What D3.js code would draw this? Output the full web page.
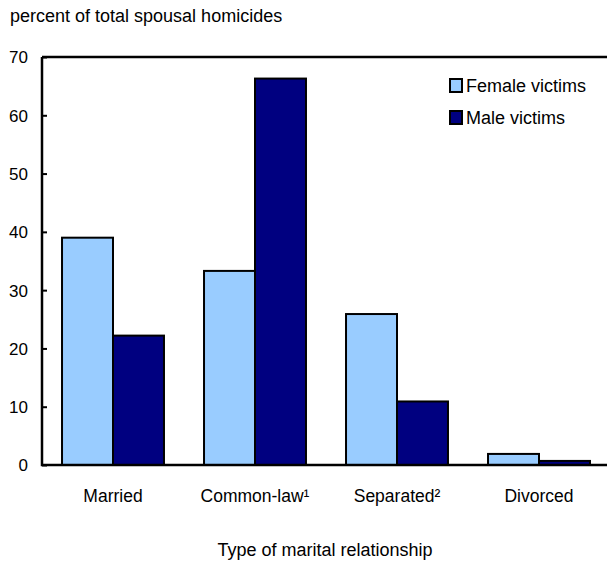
<!DOCTYPE html>
<html><head><meta charset="utf-8">
<script src="https://cdn.jsdelivr.net/npm/d3@7"></script>
<style>body{margin:0;background:#fff}svg{display:block}text{font-family:"Liberation Sans",Arial,sans-serif;fill:#000}</style>
</head><body>
<svg id="c" width="607" height="561"></svg>
<script>
const categories = ["Married", "Common-law\u00B9", "Separated\u00B2", "Divorced"];
const seriesNames = ["Female victims", "Male victims"];
const femaleValues = [39.0, 33.3, 25.9, 1.9];
const maleValues = [22.2, 66.3, 10.9, 0.7];
const yTicks = [0, 10, 20, 30, 40, 50, 60, 70];
const colors = ["#99CCFF", "#000080"];

const svg = d3.select("#c");
const m = {l: 42, t: 57, r: 610, b: 465};
const x = d3.scaleBand().domain(categories).range([m.l, m.r]).paddingInner(0.282).paddingOuter(0.141);
const xs = d3.scaleBand().domain(seriesNames).range([0, x.bandwidth()]);
const y = d3.scaleLinear().domain([0, 70]).range([m.b, m.t]);

const data = categories.map((c, i) => ({c, vals: [femaleValues[i], maleValues[i]]}));

// bars
const g = svg.append("g");
data.forEach(d => {
  d.vals.forEach((v, j) => {
    g.append("rect")
      .attr("x", x(d.c) + xs(seriesNames[j]))
      .attr("y", y(v))
      .attr("width", xs.bandwidth())
      .attr("height", y(0) - y(v))
      .attr("fill", colors[j])
      .attr("stroke", "#000").attr("stroke-width", 2);
  });
});

// frame
svg.append("path").attr("d", `M${m.l},${m.t}H${m.r}M${m.l},${m.t}V${m.b}H${m.r}`)
  .attr("fill", "none").attr("stroke", "#000").attr("stroke-width", 2.5);

// y axis ticks
const yAxis = d3.axisRight(y).tickValues(yTicks).tickSize(5).tickFormat(d3.format("d"));
const ya = svg.append("g").attr("transform", `translate(${m.l},0)`).call(yAxis);
ya.select(".domain").remove();
ya.selectAll(".tick line").attr("stroke", "#000").attr("stroke-width", 2);
ya.selectAll(".tick text").attr("x", -14).attr("text-anchor", "end").attr("font-size", 17).attr("dy", "0.35em");

// x axis labels
const xAxis = d3.axisBottom(x).tickSize(0);
const xa = svg.append("g").attr("transform", `translate(0,${m.b})`).call(xAxis);
xa.select(".domain").remove();
xa.selectAll(".tick text").attr("font-size", 17.5).attr("y", 37).attr("dy", 0);

// titles
svg.append("text").attr("x", 10).attr("y", 22).attr("font-size", 18).text("percent of total spousal homicides");
svg.append("text").attr("x", 325).attr("y", 556).attr("text-anchor", "middle").attr("font-size", 18).text("Type of marital relationship");

// legend
const lg = svg.append("g");
seriesNames.forEach((s, j) => {
  const yy = 79 + j * 32;
  lg.append("rect").attr("x", 450).attr("y", yy).attr("width", 12).attr("height", 13)
    .attr("fill", colors[j]).attr("stroke", "#000").attr("stroke-width", 2);
  lg.append("text").attr("x", 466).attr("y", yy + 6.5).attr("dy", "0.35em").attr("font-size", 18).text(s);
});
</script>
</body></html>
